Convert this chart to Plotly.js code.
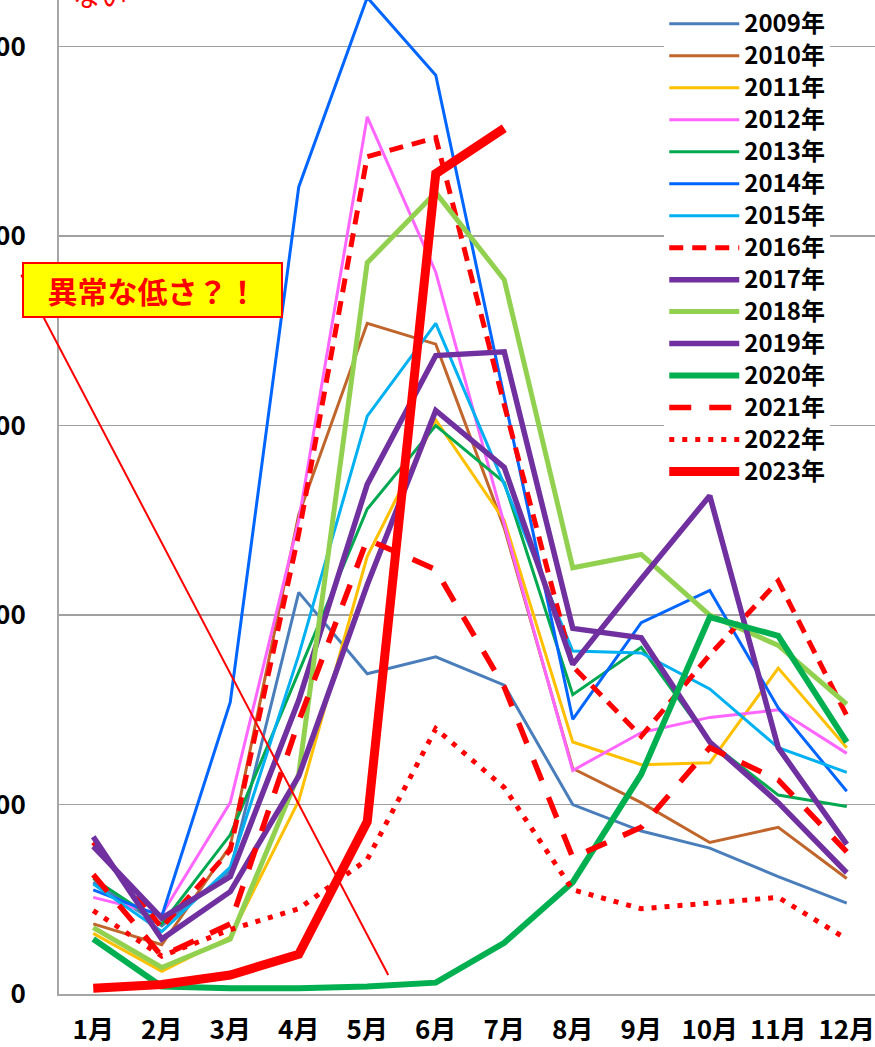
<!DOCTYPE html>
<html>
<head>
<meta charset="utf-8">
<script src="https://cdn.plot.ly/plotly-3.0.1.min.js"></script>
<style>
  html, body { margin: 0; padding: 0; overflow: hidden; background: #ffffff; width: 875px; height: 1047px; }
  #chart { position: absolute; left: -41.25px; top: -60px; width: 962px; height: 1120px; }
</style>
</head>
<body>
<div id="chart"></div>
<script>
// ---- data ----
const months = ["1月","2月","3月","4月","5月","6月","7月","8月","9月","10月","11月","12月"];
const y2009 = [59, 36, 65, 212, 169, 178, 163, 100, 86, 77, 62, 48];
const y2010 = [37, 26, 78, 253, 354, 343, 246, 119, 101, 80, 88, 61];
const y2011 = [32, 12, 30, 102, 231, 303, 250, 133, 121, 122, 172, 130];
const y2012 = [51, 42, 101, 250, 463, 381, 248, 118, 138, 146, 150, 127];
const y2013 = [61, 37, 84, 170, 256, 300, 270, 158, 183, 133, 105, 99];
const y2014 = [55, 41, 154, 426, 526, 485, 315, 145, 196, 213, 151, 107];
const y2015 = [58, 33, 67, 179, 305, 354, 269, 181, 180, 161, 130, 117];
const y2016 = [80, 35, 76, 243, 442, 452, 311, 173, 136, 179, 218, 147];
const y2017 = [78, 40, 62, 155, 269, 337, 339, 193, 188, 133, 101, 64];
const y2018 = [35, 14, 29, 116, 386, 423, 377, 225, 232, 200, 184, 153];
const y2019 = [83, 29, 54, 115, 216, 308, 278, 174, 219, 263, 130, 79];
const y2020 = [29, 4, 3, 3, 4, 6, 27, 59, 116, 199, 189, 133];
const y2021 = [63, 20, 37, 144, 240, 224, 162, 72, 88, 130, 113, 75];
const y2022 = [44, 20, 34, 45, 71, 140, 109, 55, 45, 48, 51, 29];
const y2023 = [3, 5, 10, 21, 91, 433, 457];
const yTicks = [0, 100, 200, 300, 400, 500];

const seriesNames = ["2009年","2010年","2011年","2012年","2013年","2014年","2015年","2016年","2017年","2018年","2019年","2020年","2021年","2022年","2023年"];
const seriesData = [y2009,y2010,y2011,y2012,y2013,y2014,y2015,y2016,y2017,y2018,y2019,y2020,y2021,y2022,y2023];
const styles = [
  {color:"#4A7EBB", width:3, dash:"solid"},
  {color:"#C0662C", width:3, dash:"solid"},
  {color:"#FFC000", width:3, dash:"solid"},
  {color:"#FF66FF", width:3, dash:"solid"},
  {color:"#00A850", width:3, dash:"solid"},
  {color:"#0066FF", width:3, dash:"solid"},
  {color:"#00B0F0", width:3, dash:"solid"},
  {color:"#FF0000", width:5, dash:"14px,9px"},
  {color:"#7030A0", width:5.5, dash:"solid"},
  {color:"#92D050", width:5, dash:"solid"},
  {color:"#7030A0", width:5.5, dash:"solid"},
  {color:"#00B050", width:6, dash:"solid"},
  {color:"#FF0000", width:5.5, dash:"22px,18px"},
  {color:"#FF0000", width:5, dash:"5px,8px"},
  {color:"#FF0000", width:9, dash:"solid"}
];

const traces = seriesData.map((d, i) => ({
  type: "scatter",
  mode: "lines",
  name: '<span style="font-size:24px">' + seriesNames[i] + '</span>',
  x: months.slice(0, d.length),
  y: d,
  line: {color: styles[i].color, width: styles[i].width, dash: styles[i].dash},
  hoverinfo: "skip"
}));

// screen pixel -> paper helpers (plot area: x 58.75..880.75, y -47.7..994)
const PX0 = 58.75, PW = 822, PY1 = 994, PH = 1041.7;
const px = sx => (sx - PX0) / PW;
const py = sy => (PY1 - sy) / PH;

const FAM = "Noto Sans CJK JP, Noto Sans, sans-serif";
const baseFont = {family: FAM, size: 26, color: "#000000", weight: "bold"};

const layout = {
  margin: {l: 100, r: 40, t: 12.3, b: 66, pad: 0},
  paper_bgcolor: "#ffffff",
  plot_bgcolor: "#ffffff",
  showlegend: true,
  font: baseFont,
  xaxis: {
    type: "category",
    categoryorder: "array",
    categoryarray: months,
    range: [-0.5, 11.5],
    showgrid: false,
    showline: true,
    linecolor: "#A6A6A6",
    linewidth: 2,
    ticks: "",
    tickfont: baseFont,
    ticklabelstandoff: 12,
    zeroline: false,
    fixedrange: true
  },
  yaxis: {
    range: [0, 550],
    tickmode: "array",
    tickvals: yTicks,
    ticktext: yTicks.map(String),
    showgrid: true,
    gridcolor: "#A0A0A0",
    gridwidth: 1.5,
    showline: true,
    linecolor: "#A6A6A6",
    linewidth: 2,
    ticks: "",
    tickfont: baseFont,
    ticklabelstandoff: 26,
    zeroline: false,
    fixedrange: true
  },
  legend: {
    x: px(664), y: py(3), xanchor: "left", yanchor: "top",
    bgcolor: "#ffffff",
    borderwidth: 0,
    font: {family: FAM, size: 22.3, color: "#000000", weight: "bold"},
    itemwidth: 70,
    tracegroupgap: 0,
    traceorder: "normal"
  },
  shapes: [{
    type: "line", xref: "paper", yref: "paper",
    x0: px(21), y0: py(275), x1: px(388), y1: py(975),
    line: {color: "#FF0000", width: 2}
  }],
  annotations: [
    {
      xref: "paper", yref: "paper",
      x: px(22), y: py(262), xanchor: "left", yanchor: "top",
      text: "異常な低さ？！",
      showarrow: false,
      font: {family: FAM, size: 30, color: "#FF0000", weight: "bold"},
      bgcolor: "#FFFF00",
      bordercolor: "#FF0000",
      borderwidth: 2,
      borderpad: 1,
      width: 255,
      height: 50,
      align: "center",
      valign: "middle"
    },
    {
      xref: "paper", yref: "paper",
      x: px(71), y: py(-5), xanchor: "left", yanchor: "middle",
      text: "ない",
      showarrow: false,
      font: {family: FAM, size: 27, color: "#FF0000", weight: "normal"}
    }
  ]
};

Plotly.newPlot("chart", traces, layout, {staticPlot: true, displayModeBar: false});
</script>
</body>
</html>
